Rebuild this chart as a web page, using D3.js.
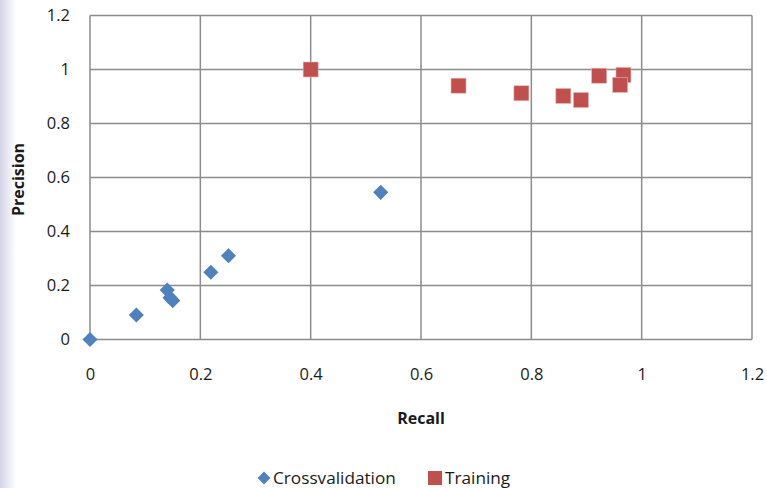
<!DOCTYPE html>
<html>
<head>
<meta charset="utf-8">
<script src="https://cdn.jsdelivr.net/npm/d3@7"></script>
<style>
  html, body { margin: 0; padding: 0; background: #fff; }
  svg { display: block; }
  text { font-family: "Open Sans", "Noto Sans", sans-serif; fill: #1a1a1a; }
</style>
</head>
<body>
<svg id="chart" width="767" height="488"></svg>
<script>
// Precision / recall pairs for the two evaluation sets
const crossRecall    = [0, 0.084, 0.14, 0.145, 0.15, 0.219, 0.251, 0.527];
const crossPrecision = [0, 0.091, 0.183, 0.155, 0.144, 0.249, 0.31, 0.545];
const trainRecall    = [0.4, 0.668, 0.782, 0.858, 0.89, 0.923, 0.967, 0.961];
const trainPrecision = [1.0, 0.94, 0.912, 0.902, 0.887, 0.977, 0.98, 0.943];
const xTicks = [0, 0.2, 0.4, 0.6, 0.8, 1, 1.2];
const yTicks = [0, 0.2, 0.4, 0.6, 0.8, 1, 1.2];
const seriesNames = ["Crossvalidation", "Training"];
const seriesColors = ["#4F81BD", "#C0504D"];

const svg = d3.select("#chart");

// soft tinted strip along the left edge
const grad = svg.append("defs").append("linearGradient").attr("id", "edge");
grad.append("stop").attr("offset", "0%").attr("stop-color", "#d4d4e8");
grad.append("stop").attr("offset", "100%").attr("stop-color", "#ffffff");
svg.append("rect").attr("x", 0).attr("y", 0).attr("width", 16).attr("height", 488).attr("fill", "url(#edge)");

const plot = { left: 90, top: 15.5, right: 752, bottom: 339.5 };
const x = d3.scaleLinear().domain([0, 1.2]).range([plot.left, plot.right]);
const y = d3.scaleLinear().domain([0, 1.2]).range([plot.bottom, plot.top]);

const grid = svg.append("g").attr("stroke", "#8c8c8c").attr("stroke-width", 1.5);
grid.selectAll("line.h").data(yTicks).join("line")
  .attr("x1", plot.left).attr("x2", plot.right)
  .attr("y1", d => y(d)).attr("y2", d => y(d));
grid.selectAll("line.v").data(xTicks).join("line")
  .attr("y1", plot.top).attr("y2", plot.bottom)
  .attr("x1", d => x(d)).attr("x2", d => x(d));

// axes (tick labels only, lines come from the grid)
const xAxis = svg.append("g").attr("transform", `translate(0,${plot.bottom})`)
  .call(d3.axisBottom(x).tickValues(xTicks).tickSize(0).tickPadding(29).tickFormat(d3.format("")));
const yAxis = svg.append("g").attr("transform", `translate(${plot.left},0)`)
  .call(d3.axisLeft(y).tickValues(yTicks).tickSize(0).tickPadding(20).tickFormat(d3.format("")));
[xAxis, yAxis].forEach(a => {
  a.select(".domain").remove();
  a.selectAll("text").attr("font-size", 16.5).attr("fill", "#1a1a1a")
    .attr("font-family", "'Open Sans', 'Noto Sans', sans-serif");
});

// axis titles
svg.append("text").attr("x", 421).attr("y", 424).attr("text-anchor", "middle")
  .attr("font-size", 16).attr("font-weight", "bold").text("Recall");
svg.append("text").attr("transform", "translate(24,179.5) rotate(-90)").attr("text-anchor", "middle")
  .attr("font-size", 16).attr("font-weight", "bold").text("Precision");

const diamond = d3.symbol().type(d3.symbolDiamond2).size(145);

svg.append("g").selectAll("path").data(crossRecall.map((r, i) => [r, crossPrecision[i]])).join("path")
  .attr("d", diamond)
  .attr("transform", d => `translate(${x(d[0])},${y(d[1])})`)
  .attr("fill", seriesColors[0]);

svg.append("g").selectAll("rect").data(trainRecall.map((r, i) => [r, trainPrecision[i]])).join("rect")
  .attr("x", d => x(d[0]) - 7.5).attr("y", d => y(d[1]) - 7.5)
  .attr("width", 15).attr("height", 15)
  .attr("fill", seriesColors[1]).attr("stroke", "#e7b5b4").attr("stroke-width", 0.6);

// legend
const legend = svg.append("g").attr("transform", "translate(0,478)");
legend.append("path").attr("d", d3.symbol().type(d3.symbolDiamond2).size(105))
  .attr("transform", "translate(264,0)").attr("fill", seriesColors[0]);
legend.append("text").attr("x", 273).attr("y", 6).attr("font-size", 17.2).text(seriesNames[0]);
legend.append("rect").attr("x", 428).attr("y", -7).attr("width", 14).attr("height", 14).attr("fill", seriesColors[1]);
legend.append("text").attr("x", 445).attr("y", 6).attr("font-size", 17.2).text(seriesNames[1]);
</script>
</body>
</html>
